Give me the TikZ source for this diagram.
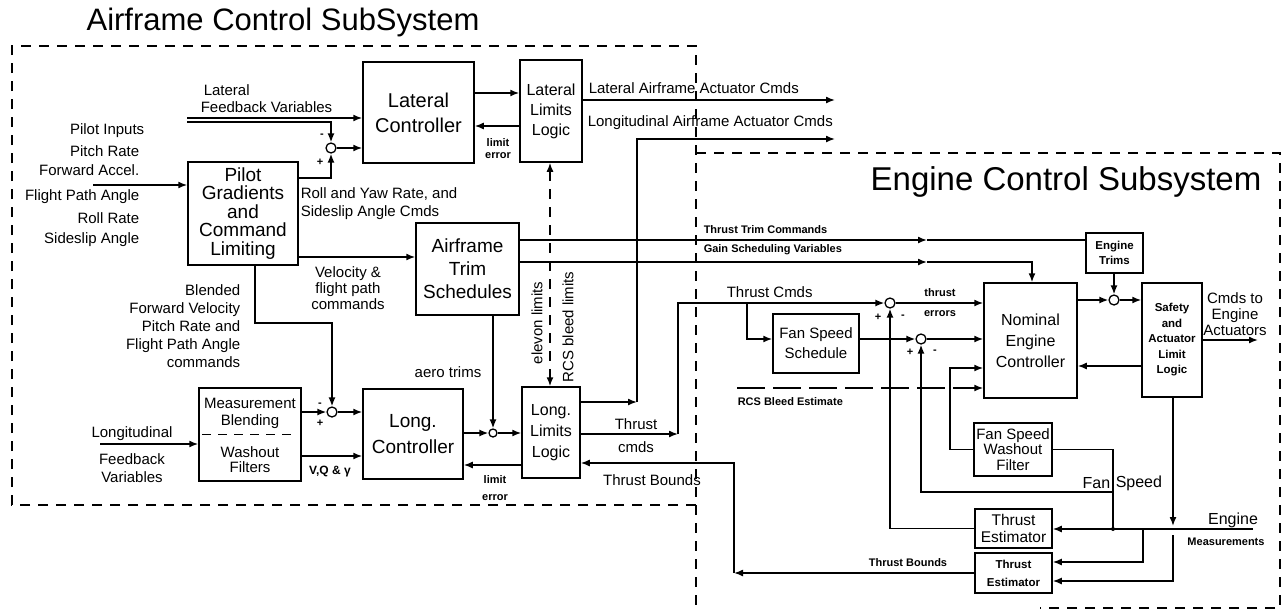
\documentclass[tikz,border=0pt]{standalone}
\usepackage{fontspec}
\setmainfont{Liberation Sans}
\usetikzlibrary{arrows.meta}
\usetikzlibrary{positioning}

\begin{document}
\begin{tikzpicture}[x=1pt,y=-1pt,line width=1.5pt,>={Latex[length=9pt,width=7pt]},
    blk/.style={draw,align=center,inner sep=0pt,font=\fontsize{19}{19}\selectfont},
    sum/.style={draw,circle,fill=white,inner sep=0pt,minimum size=10pt,line width=1.3pt},
    lbl/.style={inner sep=0pt,align=center,font=\fontsize{15}{18}\selectfont},
    tiny/.style={inner sep=0pt,align=center,font=\bfseries\fontsize{11}{14}\selectfont},
    sub/.style={dash pattern=on 10pt off 8pt,line width=1.5pt},
    ttl/.style={inner sep=0pt,font=\fontsize{31}{31}\selectfont}]
    \useasboundingbox (0,0) rectangle (1288,611);

    % Teilsysteme
    \draw[sub] (696,505) -- (12,505) -- (12,46) -- (696,46) -- (696,611);
    \draw[sub] (696,153) -- (1280,153) -- (1280,608) -- (1040,608);
    \node[ttl] (ttlair) at (283,22) {Airframe Control SubSystem};
    \node[ttl,font=\fontsize{33}{33}\selectfont] (ttleng) at (1066,182) {Engine Control Subsystem};

    % Bloecke Flugzeug
    \node[blk,minimum width=111pt,minimum height=101pt,font=\fontsize{20}{25}\selectfont] (latctl) at (418.5,112.5) {Lateral\\Controller};
    \node[blk,minimum width=62pt,minimum height=102pt,font=\fontsize{16}{20}\selectfont] (latlim) at (551,111) {Lateral\\Limits\\Logic};
    \node[blk,minimum width=110pt,minimum height=103pt,font=\fontsize{19}{18.5}\selectfont] (pilot) at (243,213.5) {Pilot\\Gradients\\and\\Command\\Limiting};
    \node[blk,minimum width=103pt,minimum height=92pt,font=\fontsize{19}{23}\selectfont] (trim) at (467.5,269) {Airframe\\Trim\\Schedules};
    \node[blk,minimum width=102pt,minimum height=93pt] (meas) at (250,434.5) {};
    \node[lbl,font=\fontsize{15}{17}\selectfont] (meastxt) at (250,413) {Measurement\\Blending};
    \node[lbl,font=\fontsize{15}{15}\selectfont] (washtxt) at (250,460) {Washout\\Filters};
    \draw[dashed,dash pattern=on 9pt off 7pt,shorten <=4pt,shorten >=4pt] (meas.west) -- (meas.east);
    \node[blk,minimum width=100pt,minimum height=90pt,font=\fontsize{19}{26}\selectfont] (longctl) at (413,434) {Long.\\Controller};
    \node[blk,minimum width=58pt,minimum height=91pt,font=\fontsize{16}{21}\selectfont] (longlim) at (551,432.5) {Long.\\Limits\\Logic};

    % Bloecke Triebwerk
    \node[blk,minimum width=86pt,minimum height=59pt,font=\fontsize{15}{20}\selectfont] (fansched) at (816,343.5) {Fan Speed\\Schedule};
    \node[blk,minimum width=93pt,minimum height=115pt,font=\fontsize{16}{21}\selectfont] (nominal) at (1030.5,340.5) {Nominal\\Engine\\Controller};
    \node[blk,minimum width=57pt,minimum height=40pt,font=\bfseries\fontsize{11.5}{15}\selectfont] (engtrim) at (1114.5,253) {Engine\\Trims};
    \node[blk,minimum width=60pt,minimum height=114pt,font=\bfseries\fontsize{11.5}{15.5}\selectfont] (safety) at (1172,340) {Safety\\and\\Actuator\\Limit\\Logic};
    \node[blk,minimum width=78pt,minimum height=53pt,font=\fontsize{15}{15.5}\selectfont] (washout) at (1013,449.5) {Fan Speed\\Washout\\Filter};
    \node[blk,minimum width=77pt,minimum height=39pt,font=\fontsize{15.5}{17}\selectfont] (est1) at (1013.5,528.5) {Thrust\\Estimator};
    \node[blk,minimum width=77pt,minimum height=40pt,font=\bfseries\fontsize{11.5}{18}\selectfont] (est2) at (1013.5,573) {Thrust\\Estimator};

    % Summierstellen
    \node[sum] (s1) at (331,148) {};
    \node[sum] (s2) at (332,412) {};
    \node[sum,minimum size=8pt] (s3) at (493,433) {};
    \node[sum] (s4) at (890,303) {};
    \node[sum] (s5) at (921,339) {};
    \node[sum] (s6) at (1114,300) {};

    % freie Enden
    \coordinate (pin) at (93,185);
    \coordinate (lfb) at (100,444);
    \coordinate (latout) at (835,100);
    \coordinate (longout) at (835,139);
    \coordinate (cmdout) at (1258,340);
    \coordinate (rcsin) at (737,388);
    \coordinate (engmeas) at (1253,529);

    % Verbindungen Flugzeug
    \draw[->] (187,118) -- (latctl.west |- 0,118);
    \draw[->] (187,122) -- (331,122) -- (s1.north);
    \draw[->] (pilot.east |- 0,178) -- (331,178) -- (s1.south);
    \draw[->] (s1.east) -- (latctl.west |- s1);
    \draw[->] (latctl.east |- 0,93) -- (latlim.west |- 0,93);
    \draw[->] (latlim.west |- 0,126) -- (latctl.east |- 0,126);
    \draw[->] (latlim.east |- latout) -- (latout);
    \draw[->] (pin) -- (pilot.west |- pin);
    \draw[->] (pilot.east |- 0,257) -- (trim.west |- 0,257);
    \draw[->] (pilot.south -| 255,0) -- (255,323) -| (s2.north);
    \draw[->] (lfb) -- (meas.west |- lfb);
    \draw[->] (meas.east |- s2) -- (s2.west);
    \draw[->] (s2.east) -- (longctl.west |- s2);
    \draw[->] (meas.east |- 0,456) -- (longctl.west |- 0,456);
    \draw[->] (trim.south -| s3) -- (s3.north);
    \draw[->] (longctl.east |- s3) -- (s3.west);
    \draw[->] (s3.east) -- (longlim.west |- s3);
    \draw[->] (longlim.west |- 0,465) -- (longctl.east |- 0,465);
    \draw[<->,dashed,dash pattern=on 10pt off 8pt] (latlim.south -| 550,0) -- (longlim.north -| 550,0);
    \draw[->] (longlim.east |- 0,402) -- (637,402);
    \draw[->] (637,402) |- (longout);
    \draw[->] (longlim.east |- 0,434) -- (678,434);
    \draw[->] (678,434) |- (s4.west);
    \draw[->] (747,303) |- (fansched.west |- 0,339);

    % Verbindungen Triebwerk
    \draw[->] (trim.east |- 0,240) -- (927,240);
    \draw (927,240) -- (engtrim.west |- 0,240);
    \draw[->] (trim.east |- 0,262) -- (927,262);
    \draw[->] (927,262) -| (nominal.north -| 1032,0);
    \draw[->] (s4.east) -- (nominal.west |- s4);
    \draw[->] (fansched.east |- s5) -- (s5.west);
    \draw[->] (s5.east) -- (nominal.west |- s5);
    \draw[->] (engtrim.south -| s6) -- (s6.north);
    \draw[->] (nominal.east |- s6) -- (s6.west);
    \draw[->] (s6.east) -- (safety.west |- s6);
    \draw[->] (safety.west |- 0,366) -- (nominal.east |- 0,366);
    \draw[->] (safety.east |- cmdout) -- (cmdout);
    \draw[->,dash pattern=on 28pt off 8pt] (rcsin) -- (nominal.west |- rcsin);
    \draw[->] (washout.west) -| (950,368) -- (nominal.west |- 0,368);
    \draw (washout.east) -- (1113,449.5) -- (1113,529);
    \draw[->] (1113,492) -| (s5.south);
    \fill (1113,529) circle (2pt);
    \draw[->] (engmeas) -- (est1.east |- engmeas);
    \draw[->] (1143,529) |- (est2.east |- 0,562);
    \draw[->] (safety.south -| 1173,0) -- (1173,526);
    \draw[->] (1173,535) |- (est2.east |- 0,581);
    \draw[->] (est1.west) -| (s4.south);
    \draw[->] (est2.west) -- (734,573);
    \draw[->] (734,573) |- (longlim.east |- 0,463);

    % Beschriftungen links
    \node[lbl,anchor=west] (tlat) at (203,90) {Lateral};
    \node[lbl,anchor=west] (tlatfb) at (200,107) {Feedback Variables};
    \foreach \t/\xx/\yy [count=\i] in {Pilot Inputs/145/131,Pitch Rate/140/151,Forward Accel./140/170,Flight Path Angle/140/197,Roll Rate/140/218,Sideslip Angle/140/240}
        \node[lbl,anchor=east] (tpil\i) at (\xx,\yy) {\t};
    \node[lbl,anchor=east,align=right] (tblend) at (241,326) {Blended\\Forward Velocity\\Pitch Rate and\\Flight Path Angle\\commands};
    \node[lbl] (tlong) at (132,434) {Longitudinal};
    \node[lbl] (tlongfb) at (132,468) {Feedback\\Variables};
    \node[lbl,anchor=west,align=left] (troll) at (300,204) {Roll and Yaw Rate, and\\Sideslip Angle Cmds};
    \node[lbl,font=\fontsize{15}{16}\selectfont] (tvel) at (348,288) {Velocity \&\\flight path\\commands};
    \node[tiny,font=\bfseries\fontsize{12}{14}\selectfont] (tvqg) at (330,472) {V,Q \& γ};
    \node[tiny] (tm1) at (322,136) {-};
    \node[tiny] (tp1) at (320,162) {+};
    \node[tiny] (tm2) at (320,405) {-};
    \node[tiny] (tp2) at (320,423) {+};

    % Beschriftungen Mitte
    \node[tiny,font=\bfseries\fontsize{11}{12}\selectfont] (tlerr1) at (498,149) {limit\\error};
    \node[tiny,font=\bfseries\fontsize{11}{17}\selectfont] (tlerr2) at (495,488) {limit\\error};
    \node[lbl,anchor=west] (tlatcmd) at (588,88) {Lateral Airframe Actuator Cmds};
    \node[lbl,anchor=west] (tlongcmd) at (587,123) {Longitudinal Airframe Actuator Cmds};
    \node[lbl] (taero) at (448,372) {aero trims};
    \node[lbl,rotate=90] (televon) at (537,323) {elevon limits};
    \node[lbl,rotate=90] (trcs) at (568,327) {RCS bleed limits};
    \node[lbl,font=\fontsize{15}{23}\selectfont] (tthr) at (636,436) {Thrust\\cmds};
    \node[lbl] (tbnd1) at (652,480) {Thrust Bounds};

    % Beschriftungen Triebwerk
    \node[tiny,anchor=west] (ttrim) at (703,230) {Thrust Trim Commands};
    \node[tiny,anchor=west] (tgain) at (703,250) {Gain Scheduling Variables};
    \node[lbl,anchor=west] (tcmds) at (726,292) {Thrust Cmds};
    \node[tiny,font=\bfseries\fontsize{11}{20}\selectfont] (terr) at (940,303) {thrust\\errors};
    \node[tiny] (tp4) at (878,317) {+};
    \node[tiny] (tm4) at (903,317) {-};
    \node[tiny] (tp5) at (910,352) {+};
    \node[tiny] (tm5) at (935,352) {-};
    \node[tiny,anchor=west] (trcsbl) at (737,402) {RCS Bleed Estimate};
    \node[lbl,font=\fontsize{15}{16}\selectfont] (tcmdto) at (1235,314) {Cmds to\\Engine\\Actuators};
    \node[lbl,anchor=east,font=\fontsize{16}{18}\selectfont] (tfan) at (1111,483) {Fan};
    \node[lbl,anchor=west,font=\fontsize{16}{18}\selectfont] (tspeed) at (1115,483) {Speed};
    \node[lbl,font=\fontsize{16}{18}\selectfont] (teng) at (1233,520) {Engine};
    \node[tiny] (tmeas) at (1226,542) {Measurements};
    \node[tiny] (tbnd2) at (908,563) {Thrust Bounds};
\end{tikzpicture}
\end{document}
